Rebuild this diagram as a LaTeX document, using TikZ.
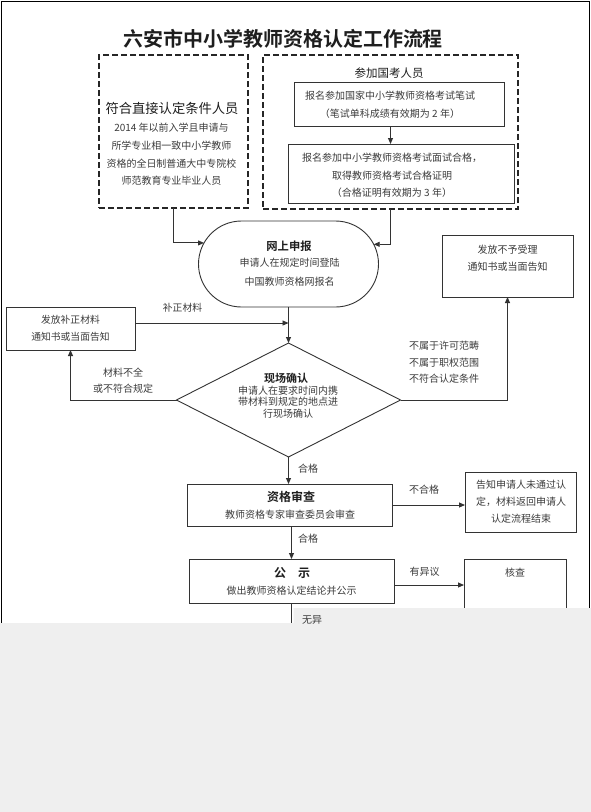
\documentclass[tikz,border=0pt]{standalone}
\usepackage{fontspec}
\setmainfont{Noto Sans CJK SC}[BoldFont={Noto Sans CJK SC Bold}]
\usetikzlibrary{shapes.geometric,shapes.misc,arrows.meta,calc}
\definecolor{linec}{HTML}{333333}
\definecolor{txtc}{HTML}{3C3C3C}
\definecolor{headc}{HTML}{1E1E1E}
\definecolor{greyc}{HTML}{EFEFEF}
\begin{document}
\begin{tikzpicture}[x=1pt,y=-1pt,
  every node/.style={inner sep=0pt, outer sep=0pt},
  txt/.style={font=\fontsize{10}{17.6}\selectfont, text=txtc, align=center},
  head/.style={font=\fontsize{11.5}{14}\selectfont\bfseries, text=headc, align=center},
  sbox/.style={draw=linec, line width=0.9pt, rectangle},
  dbox/.style={draw=black!85, line width=2.2pt, dash pattern=on 6pt off 3pt, rectangle},
  arr/.style={draw=linec, line width=0.9pt, -{Triangle[length=6pt,width=5pt]}},
  conn/.style={draw=linec, line width=0.9pt}
]
\useasboundingbox (0,0) rectangle (591,812);
\fill[white] (0,0) rectangle (591,812);
\draw[black, line width=1.4pt] (1.5,700) -- (1.5,1.5) -- (589.3,1.5) -- (589.3,700);

% title
\node[font=\fontsize{20}{24}\selectfont\bfseries, text=headc] (title) at (283,39) {六安市中小学教师资格认定工作流程};

% left dashed box
\node[dbox, minimum width=149pt, minimum height=153pt] (L) at (173.5,131.5) {};
\node[font=\fontsize{13.3}{16}\selectfont, text=headc] (Lh) at (172,108) {符合直接认定条件人员};
\node[txt, font=\fontsize{10}{17.7}\selectfont] (Lt) at (171.5,154.5) {2014 年以前入学且申请与\\所学专业相一致中小学教师\\资格的全日制普通大中专院校\\师范教育专业毕业人员};

% right dashed box
\node[dbox, minimum width=255pt, minimum height=154pt] (R) at (390.5,132) {};
\node[font=\fontsize{11.5}{14}\selectfont, text=headc] (Rh) at (389,73) {参加国考人员};
\node[sbox, minimum width=210pt, minimum height=44pt] (B1) at (399,104) {};
\node[txt, font=\fontsize{10}{18}\selectfont] (B1t) at (390,105) {报名参加国家中小学教师资格考试笔试\\（笔试单科成绩有效期为 2 年）};
\node[sbox, minimum width=226pt, minimum height=59pt] (B2) at (401,173.5) {};
\node[txt, font=\fontsize{10}{17.5}\selectfont] (B2t) at (392,175.5) {报名参加中小学教师资格考试面试合格，\\取得教师资格考试合格证明\\（合格证明有效期为 3 年）};

% stadium
\node[rounded rectangle, draw=linec, line width=0.9pt, minimum width=180pt, minimum height=86pt] (S) at (288.5,264) {};
\node[head, font=\fontsize{11.3}{14}\selectfont\bfseries] (Sh) at (289,246) {网上申报};
\node[txt, font=\fontsize{10}{19}\selectfont] (St) at (289.5,272.5) {申请人在规定时间登陆\\中国教师资格网报名};

% left notice box
\node[sbox, minimum width=129pt, minimum height=43pt] (A) at (70.5,328.5) {};
\node[txt, font=\fontsize{9.8}{17}\selectfont] (At) at (70.5,328.5) {发放补正材料\\通知书或当面告知};
\node[txt, font=\fontsize{9.8}{12}\selectfont] (Alab) at (182.5,308) {补正材料};

% right notice box
\node[sbox, minimum width=131pt, minimum height=62pt] (N) at (507.5,266) {};
\node[txt, font=\fontsize{10}{17.4}\selectfont] (Nt) at (507.5,258) {发放不予受理\\通知书或当面告知};

% diamond
\node[diamond, draw=linec, line width=0.9pt, minimum width=224pt, minimum height=114pt] (D) at (288.5,400) {};
\node[head, font=\fontsize{11}{13}\selectfont\bfseries] (Dh) at (286,378) {现场确认};
\node[txt, font=\fontsize{10}{11.5}\selectfont] (Dt) at (288,402) {申请人在要求时间内携\\带材料到规定的地点进\\行现场确认};
\node[txt, font=\fontsize{10}{16}\selectfont] (Dl) at (123,381) {材料不全\\或不符合规定};
\node[txt, font=\fontsize{10}{16.5}\selectfont, align=left, anchor=west] (Dr) at (409,362.5) {不属于许可范畴\\不属于职权范围\\不符合认定条件};

% review box
\node[sbox, minimum width=205pt, minimum height=42pt] (Q) at (289.5,505) {};
\node[head, font=\fontsize{12}{14}\selectfont\bfseries] (Qh) at (291,497) {资格审查};
\node[txt] (Qt) at (290,515) {教师资格专家审查委员会审查};
\node[txt] (ok1) at (308,469) {合格};
\node[txt] (ok2) at (308,539) {合格};

% fail box
\node[sbox, minimum width=111pt, minimum height=60pt] (F) at (520.5,502) {};
\node[txt, font=\fontsize{10}{17}\selectfont] (Ft) at (521,502) {告知申请人未通过认\\定，材料返回申请人\\认定流程结束};
\node[txt] (nolab) at (424,490) {不合格};

% publish box
\node[sbox, minimum width=205pt, minimum height=44pt] (P) at (291.5,581) {};
\node[head, font=\fontsize{12}{14}\selectfont\bfseries] (Ph) at (292,573) {公　示};
\node[txt] (Pt) at (291.5,591) {做出教师资格认定结论并公示};
\node[txt] (oblab) at (424.5,572) {有异议};

% check box
\node[sbox, minimum width=102pt, minimum height=91pt] (H) at (515,604.5) {};
\node[txt] (Ht) at (515,573) {核查};

% connectors
\draw[arr] (L.south) |- (S.166.8);
\draw[arr] (R.south) |- (S.13.2);
\draw[arr] (B1.south -| R.south) -- (B2.north -| R.south);
\draw[arr] (S.south) -- (D.north);
\coordinate (aj) at ($(A.east)+(0,-5.5)$);
\draw[arr] (aj) -- (aj -| D.north);
\draw[arr] (D.west) -| (A.south);
\draw[arr] (D.east) -| (N.south);
\draw[arr] (D.south) -- (D.south |- Q.north);
\draw[arr] (Q.south -| P.north) -- (P.north);
\draw[arr] (Q.east) -- (Q.east -| F.west);
\coordinate (pe) at ($(P.east)+(0,4)$);
\draw[arr] (pe) -- (pe -| H.west);
\coordinate (pend) at (0,650);
\draw[conn] (P.south) -- (P.south |- pend);

% cut-off grey area
\fill[greyc] (0,812) -- (0,623) -- (293.5,623) -- (293.5,608) -- (591,608) -- (591,812) -- cycle;
\node[txt, anchor=west] (nolab2) at (302,620) {无异};
\end{tikzpicture}
\end{document}
